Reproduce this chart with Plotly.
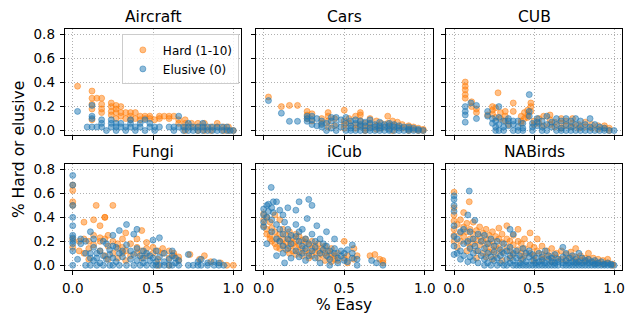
import plotly.graph_objects as go

# ---- data: (% Easy, [% Hard/elusive values at that x]) ----
panel_names = ["Aircraft", "Cars", "CUB", "Fungi", "iCub", "NABirds"]
series_names = ["Hard (1-10)", "Elusive (0)"]
x_ticks = [0, 0.5, 1.0]
x_tick_labels = ["0.0", "0.5", "1.0"]
y_ticks = [0, 0.2, 0.4, 0.6, 0.8]
y_tick_labels = ["0.0", "0.2", "0.4", "0.6", "0.8"]

aircraft_hard = [
    (0.03, [0.37]), (0.12, [0.33, 0.27, 0.22, 0.18, 0.09]), (0.15, [0.27]),
    (0.18, [0.27, 0.22, 0.18, 0.15]), (0.24, [0.23, 0.2, 0.16, 0.13]),
    (0.27, [0.21, 0.18, 0.15, 0.1]), (0.30, [0.2, 0.15, 0.12]), (0.33, [0.15, 0.1]),
    (0.36, [0.15, 0.12, 0.09]), (0.39, [0.15, 0.1]), (0.42, [0.12, 0.09]),
    (0.45, [0.12, 0.1]), (0.48, [0.12, 0.1]), (0.51, [0.09]), (0.54, [0.12, 0.1]),
    (0.57, [0.12]), (0.60, [0.12, 0.1]), (0.63, [0.12]), (0.66, [0.06, 0.09]),
    (0.70, [0.09, 0.06, 0.03, 0.0]), (0.74, [0.06, 0.03]), (0.78, [0.06, 0.03, 0.0]),
    (0.82, [0.06, 0.03, 0.0]), (0.86, [0.03, 0.0]), (0.90, [0.06, 0.03]),
    (0.94, [0.03, 0.0]), (0.97, [0.0, 0.03]), (1.0, [0.0]),
]
aircraft_elusive = [
    (0.03, [0.16]), (0.09, [0.03]), (0.12, [0.21, 0.12, 0.1, 0.03]), (0.15, [0.03]),
    (0.18, [0.03, 0.06, 0.09]), (0.21, [0.0]), (0.24, [0.03, 0.06, 0.09]),
    (0.27, [0.06, 0.03, 0.0]), (0.30, [0.03, 0.06]), (0.33, [0.0, 0.03]),
    (0.36, [0.09, 0.06, 0.03]), (0.39, [0.0, 0.03]), (0.42, [0.03, 0.06]),
    (0.45, [0.09, 0.0]), (0.48, [0.06, 0.03]), (0.51, [0.0, 0.03]), (0.54, [0.03]),
    (0.60, [0.03]), (0.63, [0.0, 0.03]), (0.66, [0.12, 0.03]), (0.69, [0.0, 0.03]),
    (0.72, [0.0, 0.03, 0.06]), (0.75, [0.0, 0.03]), (0.78, [0.0, 0.03]),
    (0.81, [0.0, 0.06, 0.03]), (0.84, [0.0, 0.03]), (0.87, [0.0, 0.03]),
    (0.90, [0.0, 0.03]), (0.93, [0.0, 0.03]), (0.96, [0.0, 0.03]), (0.98, [0.0]), (1.0, [0.0]),
]

cars_hard = [
    (0.03, [0.28]), (0.11, [0.2]), (0.16, [0.21]), (0.21, [0.21]), (0.27, [0.16, 0.13, 0.1]),
    (0.30, [0.08, 0.14]), (0.36, [0.1, 0.06]), (0.40, [0.15, 0.12, 0.08, 0.03]),
    (0.44, [0.04, 0.1]), (0.50, [0.17, 0.08, 0.05, 0.02]), (0.53, [0.1, 0.06]),
    (0.57, [0.12, 0.05, 0.02]), (0.60, [0.15, 0.13, 0.08, 0.04]), (0.63, [0.06, 0.02, 0.0]),
    (0.66, [0.1, 0.05, 0.03]), (0.70, [0.08, 0.04, 0.01]), (0.73, [0.06, 0.02]),
    (0.77, [0.12, 0.06, 0.03]), (0.80, [0.08, 0.04, 0.0]), (0.83, [0.07, 0.03]),
    (0.86, [0.05, 0.02]), (0.90, [0.04, 0.02, 0.0]), (0.93, [0.03, 0.01]),
    (0.96, [0.02, 0.0]), (0.99, [0.01, 0.0]),
]
cars_elusive = [
    (0.03, [0.25]), (0.11, [0.145]), (0.16, [0.077]), (0.21, [0.077]),
    (0.27, [0.077, 0.1, 0.12]), (0.30, [0.05, 0.12, 0.09]), (0.33, [0.04, 0.1]),
    (0.36, [0.03, 0.08, 0.05]), (0.39, [0.0, 0.06]), (0.42, [0.02, 0.08, 0.11]),
    (0.45, [0.0, 0.05, 0.11]), (0.48, [0.03, 0.09]), (0.51, [0.0, 0.06, 0.11]),
    (0.54, [0.02, 0.08, 0.04, 0.0]), (0.57, [0.0, 0.06, 0.09]), (0.60, [0.03, 0.05, 0.08, 0.0]),
    (0.63, [0.0, 0.04, 0.07]), (0.66, [0.02, 0.06, 0.09, 0.0]), (0.69, [0.0, 0.03, 0.05]),
    (0.72, [0.02, 0.07, 0.04, 0.0]), (0.75, [0.0, 0.05, 0.03]), (0.78, [0.01, 0.04, 0.06, 0.0]),
    (0.81, [0.0, 0.03, 0.05]), (0.84, [0.02, 0.04, 0.0]), (0.87, [0.0, 0.03]),
    (0.90, [0.01, 0.03, 0.0]), (0.93, [0.0, 0.02]), (0.96, [0.0, 0.01]), (0.99, [0.0]),
]

cub_hard = [
    (0.07, [0.405, 0.37, 0.34, 0.3, 0.27]), (0.11, [0.24, 0.2]), (0.14, [0.18, 0.15]),
    (0.21, [0.13]), (0.24, [0.2, 0.17, 0.14]), (0.26, [0.19, 0.11]), (0.275, [0.315]),
    (0.29, [0.15, 0.1]), (0.32, [0.16, 0.12, 0.08]), (0.34, [0.05]), (0.37, [0.23, 0.16]),
    (0.42, [0.12, 0.08, 0.06]), (0.44, [0.15, 0.1]), (0.46, [0.17, 0.13, 0.11]),
    (0.48, [0.23, 0.2, 0.16]), (0.50, [0.08, 0.05]), (0.53, [0.1, 0.06]), (0.56, [0.04, 0.12]),
    (0.60, [0.13, 0.09, 0.05]), (0.63, [0.07, 0.03]), (0.67, [0.1, 0.06, 0.02]),
    (0.70, [0.04, 0.08]), (0.74, [0.03, 0.06, 0.1]), (0.78, [0.02, 0.05]),
    (0.82, [0.03, 0.07]), (0.86, [0.02, 0.05]), (0.90, [0.01, 0.04]), (0.94, [0.02, 0.04]),
    (0.97, [0.0, 0.02]),
]
cub_elusive = [
    (0.07, [0.2, 0.16, 0.13, 0.07]), (0.105, [0.23]), (0.14, [0.21, 0.1]), (0.21, [0.16, 0.12]),
    (0.24, [0.1, 0.06]), (0.26, [0.03, 0.08, 0.0]), (0.28, [0.2, 0.11, 0.0, 0.05]),
    (0.31, [0.08, 0.0, 0.03]), (0.34, [0.1, 0.04, 0.08]), (0.37, [0.0, 0.05, 0.08]),
    (0.40, [0.03, 0.0, 0.08]), (0.43, [0.06, 0.02, 0.0]), (0.47, [0.3, 0.16, 0.12]),
    (0.49, [0.06, 0.0, 0.03]), (0.52, [0.1, 0.04, 0.07]), (0.55, [0.0, 0.08, 0.03]),
    (0.58, [0.12, 0.05, 0.0]), (0.61, [0.03, 0.07]), (0.64, [0.0, 0.05, 0.1]),
    (0.67, [0.02, 0.08, 0.0]), (0.70, [0.05, 0.1, 0.0]), (0.73, [0.03, 0.08, 0.0]),
    (0.76, [0.0, 0.05, 0.1]), (0.79, [0.03, 0.08, 0.0]), (0.82, [0.0, 0.05]),
    (0.85, [0.1, 0.03, 0.0]), (0.88, [0.05, 0.0]), (0.91, [0.03, 0.0]), (0.94, [0.0, 0.02]),
    (0.97, [0.0]), (1.0, [0.0]),
]

fungi_hard = [
    (0.0, [0.625, 0.53, 0.67, 0.5, 0.22, 0.15]), (0.04, [0.2, 0.12]), (0.07, [0.36, 0.22, 0.1]),
    (0.10, [0.2, 0.14, 0.05]), (0.13, [0.38, 0.25, 0.17]), (0.146, [0.5]),
    (0.17, [0.33, 0.23, 0.2, 0.12]), (0.20, [0.4, 0.4, 0.22, 0.08]), (0.22, [0.25, 0.16, 0.05]),
    (0.25, [0.5, 0.2, 0.1]), (0.28, [0.14, 0.18, 0.06]), (0.31, [0.1, 0.22, 0.15]),
    (0.33, [0.27, 0.12, 0.04]), (0.36, [0.18, 0.08]), (0.40, [0.15, 0.22, 0.1]),
    (0.43, [0.29, 0.12, 0.06]), (0.46, [0.19, 0.08, 0.14]), (0.50, [0.1, 0.15]),
    (0.53, [0.12, 0.05, 0.0]), (0.56, [0.1, 0.14]), (0.60, [0.12, 0.06, 0.0]),
    (0.63, [0.08, 0.1]), (0.66, [0.07, 0.04]), (0.73, [0.09]), (0.79, [0.05]),
    (0.82, [0.08]), (0.86, [0.03]), (0.92, [0.02]), (0.96, [0.0]), (1.0, [0.0]),
]
fungi_elusive = [
    (0.0, [0.75, 0.67, 0.5, 0.4, 0.33, 0.25, 0.23, 0.2, 0.18, 0.12, 0.0]), (0.03, [0.05]),
    (0.05, [0.18, 0.22]), (0.08, [0.2, 0.0, 0.1]), (0.11, [0.28, 0.0, 0.1, 0.06]),
    (0.13, [0.22, 0.15, 0.04]), (0.15, [0.0, 0.1, 0.06]), (0.17, [0.02, 0.12]),
    (0.19, [0.0, 0.08, 0.2]), (0.21, [0.18, 0.05]), (0.23, [0.0, 0.13, 0.09]),
    (0.25, [0.25, 0.0, 0.16, 0.06]), (0.27, [0.15, 0.03]), (0.29, [0.0, 0.29, 0.1]),
    (0.31, [0.07, 0.12]), (0.335, [0.34, 0.17, 0.0]), (0.36, [0.05, 0.12]),
    (0.38, [0.26, 0.0, 0.09]), (0.40, [0.3, 0.04, 0.14]), (0.42, [0.0, 0.08]),
    (0.44, [0.12, 0.02, 0.06]), (0.46, [0.0, 0.1]), (0.48, [0.04, 0.08]),
    (0.50, [0.21, 0.0, 0.06]), (0.52, [0.0, 0.12, 0.03]), (0.54, [0.23, 0.0, 0.07]),
    (0.57, [0.03, 0.0, 0.1]), (0.60, [0.0, 0.05]), (0.62, [0.12, 0.0, 0.08]),
    (0.64, [0.02, 0.06]), (0.66, [0.0, 0.04]), (0.72, [0.0, 0.09]), (0.75, [0.0]),
    (0.78, [0.0, 0.03]), (0.80, [0.05, 0.0]), (0.84, [0.0, 0.02]), (0.88, [0.0, 0.03]),
    (0.91, [0.0, 0.02]), (0.94, [0.0]),
]

icub_hard = [
    (0.0, [0.43, 0.38, 0.33]), (0.02, [0.4, 0.3, 0.26]), (0.04, [0.36, 0.25, 0.22]),
    (0.05, [0.31, 0.2]), (0.07, [0.42, 0.28, 0.18]), (0.08, [0.23, 0.15]),
    (0.10, [0.38, 0.26, 0.2, 0.14]), (0.12, [0.3, 0.22, 0.17]), (0.14, [0.25, 0.19, 0.13]),
    (0.16, [0.28, 0.21, 0.16, 0.1]), (0.18, [0.23, 0.18, 0.12]), (0.20, [0.26, 0.2, 0.15, 0.09]),
    (0.22, [0.24, 0.17, 0.11]), (0.24, [0.21, 0.14, 0.08]), (0.26, [0.19, 0.22, 0.12]),
    (0.28, [0.17, 0.1, 0.06]), (0.30, [0.2, 0.14, 0.08]), (0.32, [0.16, 0.11]),
    (0.34, [0.18, 0.12, 0.06]), (0.36, [0.14, 0.09]), (0.38, [0.16, 0.1, 0.04]),
    (0.40, [0.12, 0.07]), (0.42, [0.14, 0.09, 0.03]), (0.44, [0.08, 0.05]),
    (0.46, [0.1, 0.04]), (0.50, [0.2, 0.06]), (0.52, [0.08, 0.02]), (0.56, [0.14, 0.05]),
    (0.58, [0.08]), (0.66, [0.08]), (0.69, [0.09]), (0.72, [0.05]), (0.74, [0.04, 0.02]),
]
icub_elusive = [
    (0.0, [0.47, 0.42, 0.36, 0.32]), (0.02, [0.5, 0.18, 0.4]), (0.03, [0.51, 0.45]),
    (0.047, [0.65]), (0.05, [0.48, 0.38, 0.28]), (0.06, [0.53, 0.44]),
    (0.08, [0.53, 0.08, 0.34, 0.22]), (0.10, [0.46, 0.3, 0.2]), (0.12, [0.42, 0.26, 0.16, 0.1]),
    (0.13, [0.02, 0.36]), (0.15, [0.48, 0.3, 0.22, 0.14]), (0.17, [0.25, 0.18, 0.06]),
    (0.20, [0.46, 0.34, 0.24, 0.12]), (0.22, [0.53, 0.07, 0.2, 0.28]), (0.24, [0.3, 0.16, 0.1]),
    (0.26, [0.22, 0.14, 0.04]), (0.27, [0.39]), (0.28, [0.55, 0.18, 0.08]),
    (0.30, [0.5, 0.26, 0.12]), (0.32, [0.2, 0.06, 0.15]), (0.33, [0.33]),
    (0.35, [0.22, 0.1, 0.02]), (0.37, [0.18, 0.13]), (0.39, [0.28, 0.08, 0.16]),
    (0.41, [0.12, 0.0, 0.05]), (0.44, [0.22, 0.1, 0.14]), (0.46, [0.06, 0.02]),
    (0.48, [0.12, 0.08]), (0.50, [0.04, 0.1]), (0.52, [0.13, 0.03]), (0.55, [0.17, 0.06, 0.1]),
    (0.58, [0.0, 0.05]), (0.67, [0.04]), (0.70, [0.02]), (0.74, [0.0]),
]

nabirds_hard = [
    (0.0, [0.61, 0.48, 0.42, 0.37, 0.3, 0.25, 0.2]), (0.02, [0.34, 0.15]),
    (0.04, [0.38, 0.27, 0.2]), (0.06, [0.44, 0.32, 0.24]), (0.08, [0.35, 0.28, 0.19, 0.12]),
    (0.095, [0.53]), (0.10, [0.3, 0.22, 0.15]), (0.12, [0.36, 0.26, 0.18]),
    (0.14, [0.29, 0.21, 0.12, 0.06]), (0.16, [0.32, 0.24, 0.17]), (0.18, [0.27, 0.2, 0.1]),
    (0.20, [0.3, 0.22, 0.15, 0.07]), (0.22, [0.25, 0.18, 0.11]), (0.24, [0.28, 0.2, 0.13, 0.05]),
    (0.26, [0.24, 0.16, 0.09]), (0.28, [0.31, 0.22, 0.14]), (0.30, [0.26, 0.19, 0.11, 0.04]),
    (0.33, [0.33, 0.22, 0.15]), (0.35, [0.2, 0.12, 0.06]), (0.37, [0.25, 0.17, 0.09]),
    (0.40, [0.3, 0.2, 0.13]), (0.42, [0.18, 0.1, 0.05]), (0.44, [0.22, 0.14, 0.08]),
    (0.475, [0.27, 0.17, 0.1]), (0.50, [0.15, 0.08, 0.04]), (0.52, [0.22, 0.12]),
    (0.55, [0.16, 0.09, 0.05]), (0.58, [0.12, 0.07]), (0.61, [0.14, 0.08, 0.03]),
    (0.64, [0.1, 0.06]), (0.67, [0.12, 0.05]), (0.70, [0.09, 0.04]), (0.73, [0.11, 0.06]),
    (0.76, [0.14, 0.07, 0.03]), (0.79, [0.08, 0.04]), (0.82, [0.06, 0.03]), (0.84, [0.1, 0.05]),
    (0.87, [0.06, 0.02]), (0.90, [0.05, 0.02]), (0.93, [0.04, 0.01]), (0.96, [0.05, 0.02]),
    (0.99, [0.01, 0.0]),
]
nabirds_elusive = [
    (0.0, [0.58, 0.55, 0.5, 0.45, 0.33, 0.24, 0.16, 0.09]), (0.02, [0.22, 0.1]),
    (0.04, [0.28, 0.12, 0.05]), (0.06, [0.3, 0.18, 0.08]), (0.086, [0.42, 0.2, 0.03]),
    (0.095, [0.62]), (0.10, [0.28, 0.14, 0.07]), (0.12, [0.22, 0.1, 0.04]), (0.13, [0.375, 0.16]),
    (0.15, [0.26, 0.12, 0.02]), (0.17, [0.2, 0.08]), (0.19, [0.25, 0.14, 0.05, 0.0]),
    (0.21, [0.18, 0.1, 0.02]), (0.23, [0.22, 0.07, 0.0]), (0.25, [0.16, 0.11, 0.04]),
    (0.27, [0.2, 0.06, 0.0]), (0.29, [0.13, 0.08, 0.02]), (0.31, [0.18, 0.1, 0.0]),
    (0.33, [0.12, 0.05, 0.0]), (0.35, [0.3, 0.15, 0.08, 0.02]), (0.37, [0.26, 0.1, 0.04, 0.0]),
    (0.39, [0.12, 0.06, 0.0]), (0.41, [0.08, 0.02, 0.0]), (0.43, [0.14, 0.05, 0.0]),
    (0.45, [0.1, 0.03, 0.0]), (0.47, [0.07, 0.0, 0.12]), (0.49, [0.04, 0.09, 0.0]),
    (0.51, [0.06, 0.0, 0.02]), (0.53, [0.1, 0.03, 0.0]), (0.55, [0.07, 0.0, 0.04]),
    (0.57, [0.12, 0.02, 0.0]), (0.59, [0.05, 0.08, 0.0]), (0.61, [0.03, 0.0, 0.06]),
    (0.63, [0.09, 0.02, 0.0]), (0.65, [0.05, 0.0, 0.03]), (0.68, [0.15, 0.07, 0.0, 0.02]),
    (0.70, [0.04, 0.0, 0.1]), (0.72, [0.06, 0.02, 0.0]), (0.74, [0.08, 0.0, 0.03]),
    (0.76, [0.05, 0.0, 0.02]), (0.78, [0.1, 0.03, 0.0]), (0.80, [0.06, 0.0, 0.02]),
    (0.82, [0.04, 0.0]), (0.84, [0.05, 0.02, 0.0]), (0.86, [0.03, 0.0]),
    (0.88, [0.04, 0.01, 0.0]), (0.90, [0.02, 0.0]), (0.92, [0.03, 0.0]), (0.94, [0.01, 0.0]),
    (0.96, [0.02, 0.0]), (0.98, [0.0, 0.01]), (1.0, [0.0]),
]

panels = [
    (aircraft_hard, aircraft_elusive), (cars_hard, cars_elusive), (cub_hard, cub_elusive),
    (fungi_hard, fungi_elusive), (icub_hard, icub_elusive), (nabirds_hard, nabirds_elusive),
]

def expand(cols):
    xs, ys = [], []
    for x, yl in cols:
        for y in yl:
            xs.append(x)
            ys.append(y)
    return xs, ys

W, H = 631, 320
col_px = [(62.3, 240.6), (255.0, 434.0), (447.3, 625.0)]
row_px = [(26.7, 135.0), (164.0, 272.3)]
colors = ["rgba(255,127,14,0.5)", "rgba(31,119,180,0.5)"]
FONT = "DejaVu Sans"

fig = go.Figure()
layout = dict(
    width=W, height=H, autosize=False, margin=dict(l=0, r=0, t=0, b=0),
    paper_bgcolor="white", plot_bgcolor="white",
    font=dict(family=FONT, size=13, color="black"),
    annotations=[],
    legend=dict(
        x=120 / W, y=1 - 32 / H, xanchor="left", yanchor="top",
        bgcolor="rgba(255,255,255,0.8)", bordercolor="#cccccc", borderwidth=1,
        font=dict(family=FONT, size=12), itemwidth=30, tracegroupgap=0,
        traceorder="normal",
    ),
)

for i, (name, series) in enumerate(zip(panel_names, panels)):
    r, c = divmod(i, 3)
    ax = "" if i == 0 else str(i + 1)
    xd = [col_px[c][0] / W, col_px[c][1] / W]
    yd = [1 - row_px[r][1] / H, 1 - row_px[r][0] / H]
    for s, cols in enumerate(series):
        xs, ys = expand(cols)
        fig.add_trace(go.Scatter(
            x=xs, y=ys, mode="markers", name=series_names[s],
            showlegend=(i == 0), xaxis="x" + ax, yaxis="y" + ax,
            marker=dict(size=6, color=colors[s], line=dict(color=colors[s], width=1)),
        ))
    common = dict(
        showline=True, linecolor="black", linewidth=1, mirror=True,
        ticks="outside", ticklen=4, tickwidth=1, tickcolor="black",
        showgrid=True, gridcolor="#b0b0b0", griddash="1px,2px", gridwidth=1,
        zeroline=False, tickfont=dict(family=FONT, size=13.5, color="black"),
        ticklabelstandoff=2,
    )
    layout["xaxis" + ax] = dict(
        common, domain=xd, range=[-0.05, 1.05], tickvals=x_ticks, ticktext=x_tick_labels,
        showticklabels=(r == 1), anchor="y" + ax,
    )
    layout["yaxis" + ax] = dict(
        common, domain=yd, range=[-0.041, 0.846], tickvals=y_ticks, ticktext=y_tick_labels,
        showticklabels=(c == 0), anchor="x" + ax,
    )
    layout["annotations"].append(dict(
        text=name, xref="paper", yref="paper", x=(xd[0] + xd[1]) / 2,
        y=1 - (row_px[r][0] - 12) / H, xanchor="center", yanchor="middle",
        showarrow=False, font=dict(family=FONT, size=15.5, color="black"),
    ))

layout["annotations"].append(dict(
    text="% Easy", xref="paper", yref="paper", x=(255 + 434) / 2 / W, y=1 - 308 / H,
    xanchor="center", yanchor="middle", showarrow=False,
    font=dict(family=FONT, size=15.5, color="black"),
))
layout["annotations"].append(dict(
    text="% Hard or elusive", xref="paper", yref="paper", x=15.5 / W, y=1 - 149.5 / H,
    xanchor="center", yanchor="middle", textangle=-90, showarrow=False,
    font=dict(family=FONT, size=15.5, color="black"),
))

fig.update_layout(**layout)
fig.write_html(
    "out.html",
    config={"displayModeBar": False},
    post_script="document.body.style.margin='0';document.body.style.padding='0';",
)
